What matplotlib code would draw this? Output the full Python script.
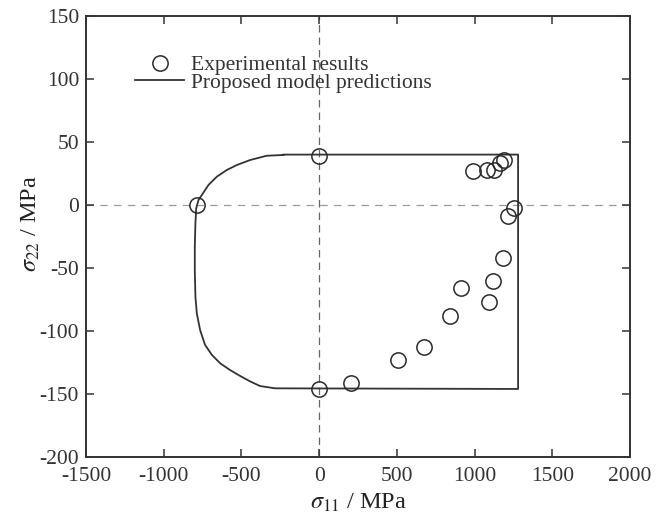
import matplotlib
matplotlib.use("Agg")
import matplotlib.pyplot as plt

plt.rcParams["font.family"] = ["Liberation Serif", "DejaVu Serif"]
plt.rcParams["mathtext.fontset"] = "stix"
plt.rcParams["axes.unicode_minus"] = False

# experimental points (sigma_11, sigma_22), MPa
exp_s11 = [0, -785, 0, 206, 510, 676, 843, 912, 1090, 1118, 1186, 1214, 1255,
           993, 1083, 1126, 1165, 1190]
exp_s22 = [39, 0, -146, -141, -123, -113, -88, -66, -77, -60, -42, -9, -2,
           27, 28, 28, 33, 36]

# model failure envelope, traced from the top-left corner anticlockwise
model_s11 = [-230, -337, -444, -530, -594, -658, -712, -755, -776, -791, -796,
             -800, -800, -796, -787, -766, -734, -690, -637, -573, -508, -444,
             -380, -283, 1280, 1280, -230]
model_s22 = [39.7, 39.1, 35.7, 31.7, 27.8, 22.5, 15.9, 7.9, 4, -2.6, -14.6,
             -33, -51.6, -72.8, -86, -99.2, -111, -119, -125.6, -131, -135.7,
             -140, -143.7, -145.5, -146, 40, 40]

x_ticks = [-1500, -1000, -500, 0, 500, 1000, 1500, 2000]
y_ticks = [-200, -150, -100, -50, 0, 50, 100, 150]

fig = plt.figure(figsize=(6.68, 5.19), dpi=100)
ax = fig.add_axes([86 / 668, 1 - 457 / 519, 544 / 668, 441 / 519])

ax.axhline(0, color="#9a9a9a", lw=0.9, ls=(0, (6, 5)), zorder=1)
ax.axvline(0, color="#666666", lw=0.9, ls=(0, (6, 4)), zorder=1)

ax.plot(model_s11, model_s22, color="#333333", lw=1.3,
        label="Proposed model predictions", zorder=2)
ax.plot(exp_s11, exp_s22, ls="none", marker="o", ms=11, mfc="none",
        mec="#2a2a2a", mew=1.1, label="Experimental results", zorder=3)

ax.set_xlim(-1500, 2000)
ax.set_ylim(-200, 150)
ax.set_xticks(x_ticks)
ax.set_yticks(y_ticks)
ax.tick_params(direction="in", length=6, width=1.1, labelsize=15.5,
               top=True, right=True, colors="#333333", labelcolor="#333333")
ax.tick_params(axis="x", pad=7)
ax.tick_params(axis="y", pad=5)
for s in ax.spines.values():
    s.set_linewidth(1.4)
    s.set_color("#333333")

ax.set_xlabel(r"$\sigma_{11}$ / MPa", fontsize=17.5, color="#222222", labelpad=4)
ax.set_ylabel(r"$\sigma_{22}$ / MPa", fontsize=17.5, color="#222222")
ax.yaxis.set_label_coords(-0.081, 0.528)

h, l = ax.get_legend_handles_labels()
leg = ax.legend(h[::-1], l[::-1], loc="upper left", bbox_to_anchor=(0.07, 0.935),
                frameon=False, fontsize=15.5, handlelength=2.3,
                handletextpad=0.3, labelspacing=-0.13, borderpad=0)
for t in leg.get_texts():
    t.set_color("#333333")

fig.savefig("out.png", dpi=100)
